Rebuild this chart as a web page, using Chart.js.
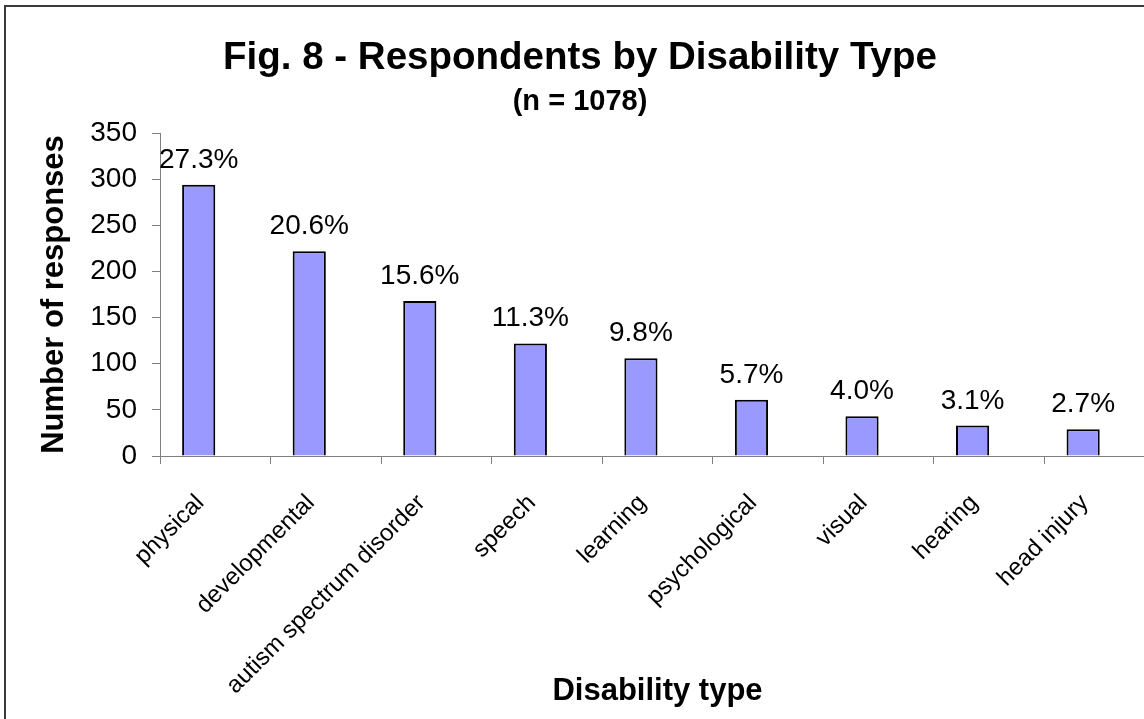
<!DOCTYPE html>
<html>
<head>
<meta charset="utf-8">
<title>Fig. 8 - Respondents by Disability Type</title>
<script src="https://cdn.jsdelivr.net/npm/chart.js@4.4.3/dist/chart.umd.min.js"></script>
<style>
  html, body { margin: 0; padding: 0; background: #fff; overflow: hidden; }
  #frame {
    position: absolute; left: 4px; top: 5px;
    width: 1200px; height: 760px;
    border: 2px solid #3a3a3a; box-sizing: border-box;
  }
  #disabilityChart { position: absolute; left: 0; top: 0; }
</style>
</head>
<body>
<div id="frame"></div>
<canvas id="disabilityChart" width="1170" height="719"></canvas>
<script>
const categories = ['physical', 'developmental', 'autism spectrum disorder', 'speech', 'learning',
                    'psychological', 'visual', 'hearing', 'head injury'];
const responses = [294, 222, 168, 122, 106, 61, 43, 33, 29];
const totalRespondents = 1078;
const yTicks = [0, 50, 100, 150, 200, 250, 300, 350];

const FONT = 'Liberation Sans, Arial, sans-serif';
const AXIS_GREY = '#808080';

Chart.defaults.font.family = FONT;
Chart.defaults.color = '#000';

function shareLabel(value) {
    return (value / totalRespondents * 100).toFixed(1) + '%';
}

// percentage text above each bar
const shareLabels = {
    id: 'shareLabels',
    afterDatasetsDraw(chart) {
        const ctx = chart.ctx;
        const meta = chart.getDatasetMeta(0);
        ctx.save();
        ctx.font = '28px ' + FONT;
        ctx.fillStyle = '#000';
        ctx.textAlign = 'center';
        ctx.textBaseline = 'alphabetic';
        meta.data.forEach((bar, i) => {
            ctx.fillText(shareLabel(responses[i]), bar.x, bar.y - 17);
        });
        ctx.restore();
    }
};

const canvas = document.getElementById('disabilityChart');

new Chart(canvas, {
    type: 'bar',
    data: {
        labels: categories,
        datasets: [{
            label: 'Number of responses',
            data: responses,
            backgroundColor: '#9999FF',
            borderColor: '#000',
            borderWidth: 2,
            borderSkipped: 'bottom'
        }, {
            // empty second series keeps the bar in the left half of each slot
            label: '',
            data: []
        }]
    },
    options: {
        responsive: false,
        animation: false,
        devicePixelRatio: 1,
        categoryPercentage: 0.6,
        barPercentage: 1,
        layout: { padding: { left: 5, right: 15, top: 0, bottom: 0 } },
        plugins: {
            legend: { display: false },
            tooltip: { enabled: false },
            title: {
                display: true,
                text: 'Fig. 8 - Respondents by Disability Type',
                color: '#000',
                font: { size: 38.5, weight: 'bold' },
                padding: { top: 35, bottom: 0 }
            },
            subtitle: {
                display: true,
                text: '(n = 1078)',
                color: '#000',
                font: { size: 29, weight: 'bold' },
                padding: { top: 3, bottom: 14 }
            }
        },
        scales: {
            x: {
                grid: { drawOnChartArea: false, tickLength: 8, color: AXIS_GREY, offset: true },
                border: { color: AXIS_GREY, width: 1 },
                ticks: {
                    font: { size: 24 },
                    color: '#000',
                    maxRotation: 45,
                    minRotation: 45,
                    autoSkip: false,
                    labelOffset: -15,
                    padding: 25
                },
                title: {
                    display: true,
                    text: 'Disability type',
                    color: '#000',
                    font: { size: 31, weight: 'bold' },
                    padding: { top: 0, bottom: 9 }
                },
                afterFit(scale) { scale.height = 263; }
            },
            y: {
                min: yTicks[0],
                max: yTicks[yTicks.length - 1],
                grid: { drawOnChartArea: false, tickLength: 8, color: AXIS_GREY },
                border: { color: AXIS_GREY, width: 1 },
                ticks: {
                    stepSize: yTicks[1] - yTicks[0],
                    font: { size: 28 },
                    color: '#000',
                    padding: 15
                },
                title: {
                    display: true,
                    text: 'Number of responses',
                    color: '#000',
                    font: { size: 31, weight: 'bold' },
                    padding: { top: 31, bottom: 0 }
                },
                afterFit(scale) { scale.width = 155; }
            }
        }
    },
    plugins: [shareLabels]
});
</script>
</body>
</html>
